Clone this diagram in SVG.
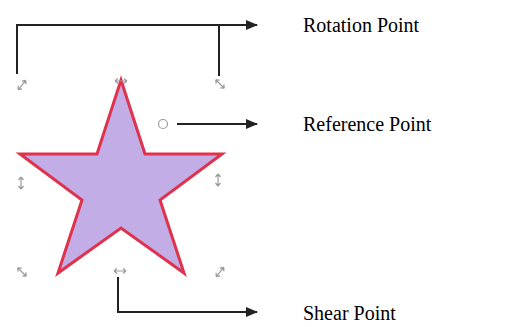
<svg xmlns="http://www.w3.org/2000/svg" width="514" height="327" viewBox="0 0 514 327">
<defs>
<marker id="ah" viewBox="0 0 12 10" refX="11" refY="5" markerWidth="12" markerHeight="10" markerUnits="userSpaceOnUse" orient="auto">
<path d="M0,0 L12,5 L0,10 Z" fill="#222"/>
</marker>
<g id="hdl">
<path d="M-6,0 L6,0 M-6,0 L-3,-2.5 M-6,0 L-3,2.5 M6,0 L3,-2.5 M6,0 L3,2.5" fill="none" stroke="#9a9a9a" stroke-width="1.2"/>
</g>
</defs>
<style>
.conn{fill:none;stroke:#222;stroke-width:2}
.lbl{font-family:"Liberation Serif","Times New Roman",serif;font-size:20px;fill:#000}
</style>
<rect width="514" height="327" fill="#fff"/>
<g id="star">
<polygon points="121,80 145,154 222,154 160,200 184,273 121,228 58,273 82,200 20,154 97,154" fill="#c3ade6" stroke="#e0324c" stroke-width="3" stroke-linejoin="miter"/>
</g>
<g id="handles">
<use href="#hdl" transform="translate(22,85) rotate(-50)"/>
<use href="#hdl" transform="translate(121,81)"/>
<use href="#hdl" transform="translate(220,84) rotate(45)"/>
<use href="#hdl" transform="translate(21,183) rotate(90)"/>
<use href="#hdl" transform="translate(218,180) rotate(90)"/>
<use href="#hdl" transform="translate(22,272) rotate(45)"/>
<use href="#hdl" transform="translate(120,271)"/>
<use href="#hdl" transform="translate(220,272) rotate(-50)"/>
</g>
<g id="refpoint">
<circle cx="163" cy="124" r="4.5" fill="#fff" stroke="#999" stroke-width="1.2"/>
</g>
<g id="connectors">
<path class="conn" d="M17,74 L17,25 L257,25" marker-end="url(#ah)"/>
<path class="conn" d="M219,76 L219,25"/>
<path class="conn" d="M177,124 L257,124" marker-end="url(#ah)"/>
<path class="conn" d="M118,277 L118,312 L257,312" marker-end="url(#ah)"/>
</g>
<g id="labels">
<text class="lbl" x="303" y="32">Rotation Point</text>
<text class="lbl" x="303" y="131">Reference Point</text>
<text class="lbl" x="303" y="320">Shear Point</text>
</g>
</svg>
